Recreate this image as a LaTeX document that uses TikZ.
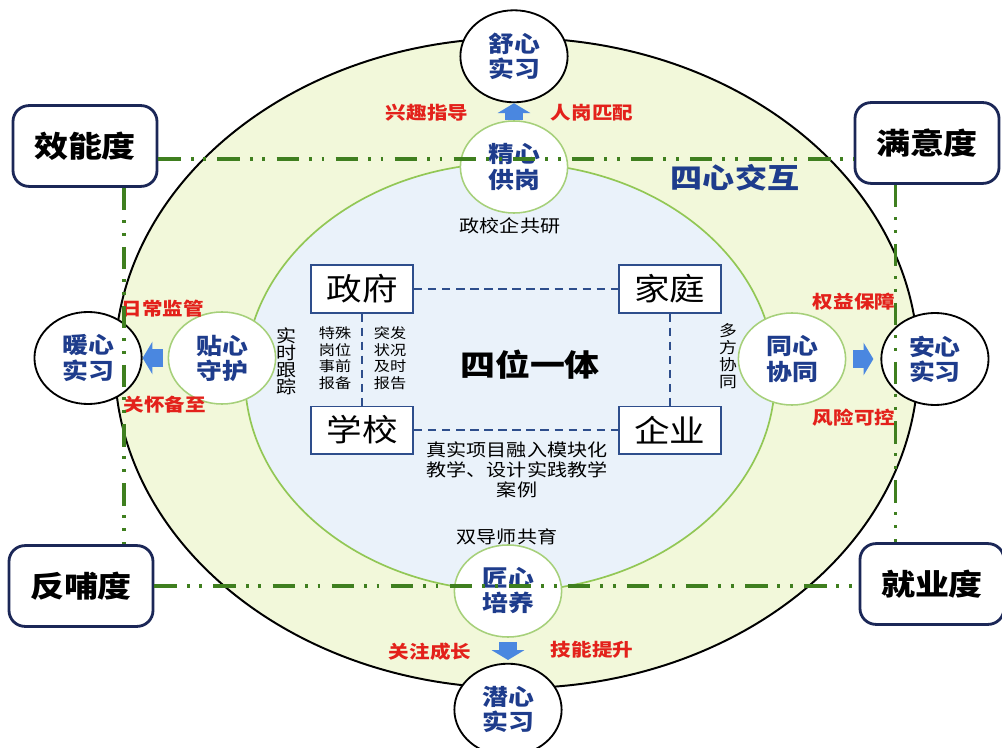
\documentclass[tikz,border=0pt]{standalone}
\usepackage{fontspec}
\setmainfont{Noto Sans CJK SC}[FakeStretch=1.15]
\usetikzlibrary{shapes.geometric,arrows.meta,positioning}
\definecolor{outerfill}{HTML}{F2F8DA}
\definecolor{innerfill}{HTML}{EAF2FA}
\definecolor{innerline}{HTML}{92C755}
\definecolor{ringgreen}{HTML}{A6D07A}
\definecolor{heartnavy}{HTML}{1E3C8C}
\definecolor{boxnavy}{HTML}{1B2757}
\definecolor{partyblue}{HTML}{2E4E8C}
\definecolor{tagred}{HTML}{E3211B}
\definecolor{pushblue}{HTML}{4A87E0}
\definecolor{chaingreen}{HTML}{3F7F1F}
\tikzset{
    degree/.style = {draw=boxnavy, rectangle, line width=2pt, rounded corners=0.4cm,
        fill=white, minimum width=3.6cm, minimum height=2.02cm,
        font=\bfseries\fontsize{21}{24}\selectfont},
    heart/.style = {draw, ellipse, line width=1.3pt, fill=white, inner sep=0pt,
        minimum width=2.68cm, minimum height=2.3cm, align=center,
        text=heartnavy, font=\bfseries\fontsize{16}{17.8}\selectfont},
    greenheart/.style = {heart, draw=ringgreen, line width=1.1pt},
    party/.style = {draw=partyblue, rectangle, line width=1.3pt, fill=white,
        minimum width=2.55cm, minimum height=1.18cm,
        font=\fontsize{22}{24}\selectfont},
    tag/.style = {text=tagred, inner sep=1pt, font=\bfseries\fontsize{12.7}{14}\selectfont},
    note/.style = {inner sep=1pt, align=center, font=\fontsize{12.4}{14.2}\selectfont},
    vnote/.style = {inner sep=1pt, align=center, font=\fontsize{12.4}{12.1}\selectfont},
    smallnote/.style = {inner sep=1pt, align=center, font=\fontsize{10}{11.7}\selectfont},
    link/.style = {draw=partyblue, line width=1.3pt, dash pattern=on 6pt off 4pt},
    push/.style = {draw=pushblue, line width=12.8pt, -{Triangle[length=7pt,width=23pt]}},
    chainline/.style = {draw=chaingreen, line width=2.4pt,
        dash pattern=on 16pt off 7pt on 2pt off 7pt on 2pt off 8pt}
}

\begin{document}
\begin{tikzpicture}[x=0.025cm, y=-0.025cm]
    \useasboundingbox (0,0) rectangle (1002,748);
    % rings
    \draw [fill=outerfill, line width=1.4pt] (516.5,363) ellipse [x radius=10.04cm, y radius=8.125cm];
    \draw [fill=innerfill, draw=innerline, line width=1.2pt] (510,377) ellipse [x radius=6.625cm, y radius=5.35cm];

    % four parties
    \node [party] (zf) at (362,289) {政府};
    \node [party, below=2.3cm of zf] (xx) {学校};
    \node [party, right=5.1cm of zf] (jt) {家庭};
    \node [party, right=5.1cm of xx] (qy) {企业};
    \draw [link] (zf) -- (jt);
    \draw [link] (xx) -- (qy);
    \draw [link] (zf) -- (xx);
    \draw [link] (jt) -- (qy);
    \node [font=\bfseries\fontsize{21.6}{24}\selectfont] (swyt) at (530,365) {四位一体};

    \node [vnote] (sssz) at (287,361) {实\\时\\跟\\踪};
    \node [smallnote] (tsgw) at (335,358) {特殊\\岗位\\事前\\报备};
    \node [smallnote] (tfzk) at (390,358) {突发\\状况\\及时\\报告};
    \node [smallnote, font=\fontsize{11}{12}\selectfont] (dfxt) at (728,356) {多\\方\\协\\同};
    \node [note] (zxqgy) at (510,226) {政校企共研};
    \node [note] (sdsgy) at (507,537) {双导师共育};
    \node [note] (zsxm) at (517,470) {真实项目融入模块化\\教学、设计实践教学\\案例};
    \node [text=heartnavy, font=\bfseries\fontsize{19.8}{22}\selectfont] (sxjh) at (735,178) {四心交互};

    % hearts
    \node [greenheart] (jingxin) at (514,167) {精心\\供岗};
    \node [heart, above=0.425cm of jingxin] (shuxin) {舒心\\实习};
    \node [greenheart] (tiexin) at (222,358) {贴心\\守护};
    \node [heart, left=0.625cm of tiexin] (nuanxin) {暖心\\实习};
    \node [greenheart] (tongxin) at (792,359) {同心\\协同};
    \node [heart, right=0.85cm of tongxin] (anxin) {安心\\实习};
    \node [greenheart] (jiangxin) at (508,591) {匠心\\培养};
    \node [heart, below=0.625cm of jiangxin] (qianxin) {潜心\\实习};

    \draw [push] (jingxin) -- (shuxin);
    \draw [push, shorten <=3pt] (tiexin) -- (nuanxin);
    \draw [push, shorten <=5pt, shorten >=5pt] (tongxin) -- (anxin);
    \draw [push, shorten <=3pt, shorten >=2pt] (jiangxin) -- (qianxin);

    \node [tag] (xqzd) at (427,113) {兴趣指导};
    \node [tag] (rgpp) at (592,113) {人岗匹配};
    \node [tag] (rcjg) at (163,309) {日常监管};
    \node [tag] (ghbz) at (165,405) {关怀备至};
    \node [tag] (qybz) at (854,302) {权益保障};
    \node [tag] (fxkk) at (854,418) {风险可控};
    \node [tag] (gzcz) at (430,652) {关注成长};
    \node [tag] (jnts) at (592,650) {技能提升};

    % four degrees
    \node [degree] (xiaoneng) at (85,146) {效能度};
    \node [degree] (manyi) at (927,143) {满意度};
    \node [degree] (fanbu) at (81,586) {反哺度};
    \node [degree] (jiuye) at (932,584) {就业度};
    \draw [chainline] (xiaoneng.-10) -- (xiaoneng.-10 -| manyi.west);
    \draw [chainline] (fanbu.east) -- (fanbu.east -| jiuye.west);
    \draw [chainline] (xiaoneng.-47) -- (xiaoneng.-47 |- fanbu.north);
    \draw [chainline] (manyi.233) -- (manyi.233 |- jiuye.north);
\end{tikzpicture}
\end{document}
